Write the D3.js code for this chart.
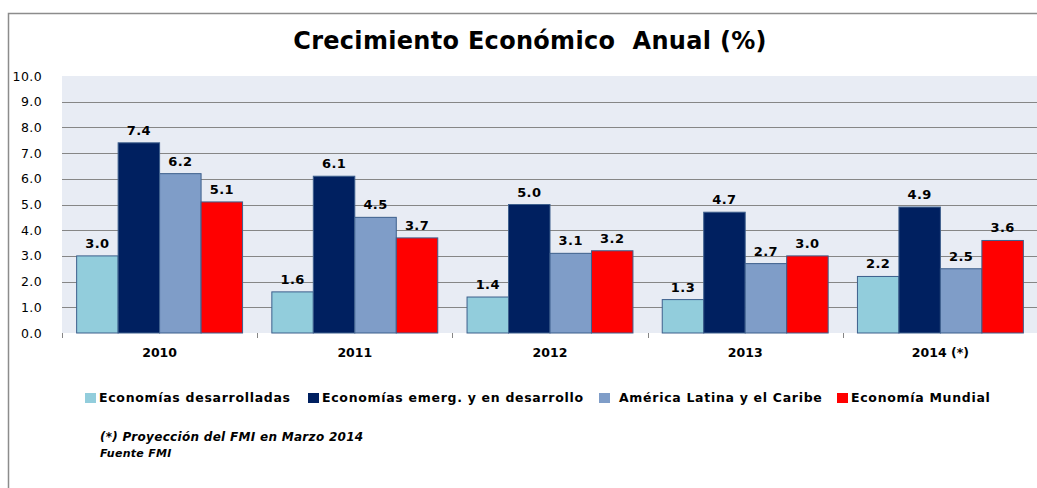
<!DOCTYPE html>
<html>
<head>
<meta charset="utf-8">
<script src="https://cdn.jsdelivr.net/npm/d3@7"></script>
<style>
  body { margin: 0; background: #fff; }
  svg text { font-family: "DejaVu Sans", Verdana, sans-serif; }
</style>
</head>
<body>
<svg id="chart" width="1037" height="488"></svg>
<script>
// data
const years = ['2010', '2011', '2012', '2013', '2014 (*)'];
const seriesNames = ['Economías desarrolladas', 'Economías emerg. y en desarrollo', 'América Latina y el Caribe', 'Economía Mundial'];
const desarrolladas = [3.0, 1.6, 1.4, 1.3, 2.2];
const emergentes = [7.4, 6.1, 5.0, 4.7, 4.9];
const latinoamerica = [6.2, 4.5, 3.1, 2.7, 2.5];
const mundial = [5.1, 3.7, 3.2, 3.0, 3.6];
const yTicks = [0, 1, 2, 3, 4, 5, 6, 7, 8, 9, 10];
const colors = ['#92cddc', '#002060', '#7f9dc8', '#ff0000'];

const W = 1037, H = 488;
const MARGIN = { left: 62, right: -1, top: 76, bottom: 155 };
const svg = d3.select('#chart');

// outer frame
svg.append('rect')
    .attr('x', 8.5).attr('y', 13.5)
    .attr('width', 1040).attr('height', 500)
    .attr('fill', 'none')
    .attr('stroke', '#8c8c8c')
    .attr('stroke-width', 1.5);

svg.append('text')
    .text('Crecimiento Económico  Anual (%)')
    .attr('x', 530).attr('y', 49)
    .attr('text-anchor', 'middle')
    .attr('font-size', '24px')
    .attr('font-weight', 'bold')
    .attr('letter-spacing', '0.3px')
    .style('white-space', 'pre');

const x0 = d3.scaleBand()
    .domain(years)
    .range([MARGIN.left, W - MARGIN.right])
    .paddingInner(0.15)
    .paddingOuter(0.075);
const x1 = d3.scaleBand()
    .domain(seriesNames)
    .range([0, x0.bandwidth()]);
const y = d3.scaleLinear()
    .domain([0, 10])
    .range([H - MARGIN.bottom, MARGIN.top]);

// plot background
svg.append('rect')
    .attr('x', MARGIN.left).attr('y', y(10))
    .attr('width', W - MARGIN.right - MARGIN.left)
    .attr('height', y(0) - y(10))
    .attr('fill', '#e8ecf4');

// grid
svg.append('g')
    .selectAll('line')
    .data(yTicks.filter(t => t > 0 && t < 10))
    .join('line')
    .attr('x1', MARGIN.left).attr('x2', W - MARGIN.right)
    .attr('y1', d => Math.round(y(d)) + 0.5).attr('y2', d => Math.round(y(d)) + 0.5)
    .attr('stroke', '#868686')
    .attr('stroke-width', 1);

// y axis labels
const yAxis = svg.append('g')
    .attr('transform', `translate(${MARGIN.left - 17}, 0)`)
    .call(d3.axisLeft(y).tickValues(yTicks).tickFormat(d3.format('.1f')).tickSize(0));
yAxis.select('.domain').remove();
yAxis.selectAll('text')
    .attr('font-size', '12.5px')
    .attr('letter-spacing', '0.4px')
    .attr('fill', '#000')
    .style('font-family', '"DejaVu Sans", Verdana, sans-serif');

// category ticks at boundaries
const step = x0.step();
const bounds = years.map((d, i) => MARGIN.left + i * step).concat([MARGIN.left + years.length * step]);
svg.append('g')
    .selectAll('line')
    .data(bounds)
    .join('line')
    .attr('x1', d => Math.round(d) + 0.5).attr('x2', d => Math.round(d) + 0.5)
    .attr('y1', y(0)).attr('y2', y(0) + 5)
    .attr('stroke', '#868686');

svg.append('g')
    .selectAll('text')
    .data(years)
    .join('text')
    .text(d => d)
    .attr('x', d => x0(d) + x0.bandwidth() / 2)
    .attr('y', y(0) + 24)
    .attr('text-anchor', 'middle')
    .attr('font-size', '12.5px')
    .attr('font-weight', 'bold');

// bars
const allSeries = [desarrolladas, emergentes, latinoamerica, mundial];
const barData = [];
years.forEach((yr, i) => {
    seriesNames.forEach((s, j) => {
        barData.push({ year: yr, series: s, value: allSeries[j][i], color: colors[j] });
    });
});

svg.append('g')
    .selectAll('rect')
    .data(barData)
    .join('rect')
    .attr('x', d => x0(d.year) + x1(d.series))
    .attr('y', d => y(d.value))
    .attr('width', x1.bandwidth())
    .attr('height', d => y(0) - y(d.value))
    .attr('fill', d => d.color)
    .attr('stroke', '#3d5f8c')
    .attr('stroke-width', 1);

svg.append('g')
    .selectAll('text')
    .data(barData)
    .join('text')
    .text(d => d.value.toFixed(1))
    .attr('x', d => x0(d.year) + x1(d.series) + x1.bandwidth() / 2)
    .attr('y', d => y(d.value) - 8)
    .attr('text-anchor', 'middle')
    .attr('font-size', '13px')
    .attr('letter-spacing', '0.4px')
    .attr('font-weight', 'bold');

// legend
const legendX = [85, 308, 599, 837];
const legend = svg.append('g')
    .selectAll('g')
    .data(seriesNames)
    .join('g')
    .attr('transform', (d, i) => `translate(${legendX[i]}, 398)`);
legend.append('rect')
    .attr('x', 0).attr('y', -5)
    .attr('width', 11).attr('height', 10)
    .attr('fill', (d, i) => colors[i]);
legend.append('text')
    .text(d => d)
    .attr('x', (d, i) => i === 2 ? 20 : 14)
    .attr('y', 4)
    .attr('font-size', '12.5px')
    .attr('font-weight', 'bold')
    .attr('letter-spacing', '0.7px');

// footnote
svg.append('text')
    .text('(*) Proyección del FMI en Marzo 2014')
    .attr('x', 100).attr('y', 441)
    .attr('font-size', '12px')
    .attr('font-weight', 'bold')
    .attr('font-style', 'italic')
    .attr('letter-spacing', '0.3px');
svg.append('text')
    .text('Fuente FMI')
    .attr('x', 100).attr('y', 457)
    .attr('font-size', '11px')
    .attr('font-weight', 'bold')
    .attr('font-style', 'italic')
    .attr('letter-spacing', '0.3px');
</script>
</body>
</html>
